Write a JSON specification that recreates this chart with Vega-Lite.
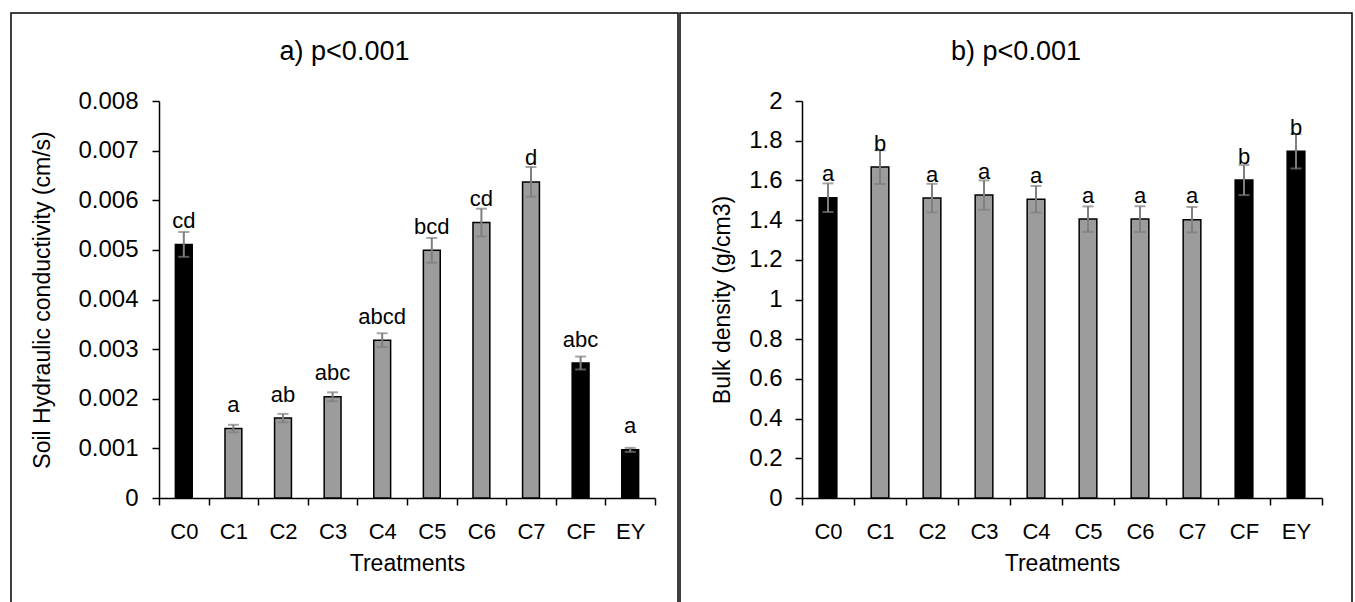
{
  "$schema": "https://vega.github.io/schema/vega-lite/v6.json",
  "padding": {"left": 10, "top": 12, "right": 0, "bottom": 0},
  "spacing": 0,
  "background": "white",
  "config": {
    "font": "Liberation Sans",
    "view": {"stroke": "black", "strokeWidth": 1.5},
    "title": {"fontWeight": "normal", "color": "black", "fontSize": 27, "anchor": "middle", "frame": "group"},
    "axis": {
      "grid": false,
      "domainColor": "black", "domainWidth": 1.5,
      "tickColor": "black", "tickWidth": 1.5, "tickSize": 7,
      "labelColor": "black", "labelFontSize": 22, "labelFont": "Liberation Sans",
      "titleColor": "black", "titleFontSize": 23, "titleFontWeight": "normal", "titleFont": "Liberation Sans"
    }
  },
  "datasets": {
    "hc": [
      {"t": "C0", "mean": 0.00511, "lo": 0.00486, "hi": 0.00536, "lab": "cd"},
      {"t": "C1", "mean": 0.0014, "lo": 0.001325, "hi": 0.001475, "lab": "a"},
      {"t": "C2", "mean": 0.00161, "lo": 0.001525, "hi": 0.001695, "lab": "ab"},
      {"t": "C3", "mean": 0.00204, "lo": 0.00195, "hi": 0.00213, "lab": "abc"},
      {"t": "C4", "mean": 0.00318, "lo": 0.00304, "hi": 0.00332, "lab": "abcd"},
      {"t": "C5", "mean": 0.00499, "lo": 0.00474, "hi": 0.00524, "lab": "bcd"},
      {"t": "C6", "mean": 0.00555, "lo": 0.00527, "hi": 0.00583, "lab": "cd"},
      {"t": "C7", "mean": 0.00637, "lo": 0.00607, "hi": 0.00667, "lab": "d"},
      {"t": "CF", "mean": 0.00272, "lo": 0.00259, "hi": 0.00285, "lab": "abc"},
      {"t": "EY", "mean": 0.00097, "lo": 0.00093, "hi": 0.00101, "lab": "a"}
    ],
    "bd": [
      {"t": "C0", "mean": 1.513, "lo": 1.441, "hi": 1.585, "lab": "a"},
      {"t": "C1", "mean": 1.667, "lo": 1.582, "hi": 1.752, "lab": "b"},
      {"t": "C2", "mean": 1.511, "lo": 1.439, "hi": 1.583, "lab": "a"},
      {"t": "C3", "mean": 1.526, "lo": 1.452, "hi": 1.6, "lab": "a"},
      {"t": "C4", "mean": 1.505, "lo": 1.438, "hi": 1.572, "lab": "a"},
      {"t": "C5", "mean": 1.405, "lo": 1.341, "hi": 1.469, "lab": "a"},
      {"t": "C6", "mean": 1.405, "lo": 1.34, "hi": 1.47, "lab": "a"},
      {"t": "C7", "mean": 1.402, "lo": 1.338, "hi": 1.466, "lab": "a"},
      {"t": "CF", "mean": 1.602, "lo": 1.526, "hi": 1.678, "lab": "b"},
      {"t": "EY", "mean": 1.747, "lo": 1.66, "hi": 1.834, "lab": "b"}
    ]
  },
  "hconcat": [
    {
      "width": 667,
      "height": 592,
      "data": {"name": "hc"},
      "title": {"text": "a) p<0.001", "offset": -53},
      "encoding": {
        "x": {
          "field": "t", "type": "nominal", "sort": null,
          "scale": {"range": [148, 644], "paddingInner": 0, "paddingOuter": 0},
          "axis": {"title": "Treatments", "labelAngle": 0, "offset": -107, "tickBand": "extent", "labelPadding": 16, "titlePadding": 10}
        }
      },
      "layer": [
        {
          "mark": {"type": "bar", "width": {"band": 0.34}, "stroke": "black", "strokeWidth": 1.5},
          "encoding": {
            "y": {
              "field": "mean", "type": "quantitative", "title": "Soil Hydraulic conductivity (cm/s)",
              "scale": {"domain": [0, 0.008], "range": [485, 88], "nice": false, "zero": true},
              "axis": {"title": "Soil Hydraulic conductivity (cm/s)", "offset": -148, "values": [0, 0.001, 0.002, 0.003, 0.004, 0.005, 0.006, 0.007, 0.008], "format": "~g", "labelFontSize": 24, "labelPadding": 14, "titlePadding": 23}
            },
            "fill": {"condition": {"test": "datum.t === 'C0' || datum.t === 'CF' || datum.t === 'EY'", "value": "black"}, "value": "#9c9c9c"}
          }
        },
        {
          "mark": {"type": "errorbar", "ticks": {"size": 11, "color": "#7f7f7f", "thickness": 2}, "rule": {"color": "#7f7f7f", "strokeWidth": 2}},
          "encoding": {
            "y": {"field": "lo", "type": "quantitative", "title": "Soil Hydraulic conductivity (cm/s)"},
            "y2": {"field": "hi"}
          }
        },
        {
          "mark": {"type": "text", "baseline": "alphabetic", "dy": -16.5, "fontSize": 22, "color": "black"},
          "encoding": {
            "y": {"field": "mean", "type": "quantitative", "title": "Soil Hydraulic conductivity (cm/s)"},
            "text": {"field": "lab"}
          }
        }
      ]
    },
    {
      "width": 672,
      "height": 592,
      "data": {"name": "bd"},
      "title": {"text": "b) p<0.001", "offset": -53},
      "encoding": {
        "x": {
          "field": "t", "type": "nominal", "sort": null,
          "scale": {"range": [122, 642], "paddingInner": 0, "paddingOuter": 0},
          "axis": {"title": "Treatments", "labelAngle": 0, "offset": -107, "tickBand": "extent", "labelPadding": 16, "titlePadding": 10}
        }
      },
      "layer": [
        {
          "mark": {"type": "bar", "width": {"band": 0.34}, "stroke": "black", "strokeWidth": 1.5},
          "encoding": {
            "y": {
              "field": "mean", "type": "quantitative", "title": "Bulk density (g/cm3)",
              "scale": {"domain": [0, 2], "range": [485, 88], "nice": false, "zero": true},
              "axis": {"title": "Bulk density (g/cm3)", "offset": -122, "values": [0, 0.2, 0.4, 0.6, 0.8, 1, 1.2, 1.4, 1.6, 1.8, 2], "format": "~g", "labelFontSize": 24, "labelPadding": 13, "titlePadding": 14}
            },
            "fill": {"condition": {"test": "datum.t === 'C0' || datum.t === 'CF' || datum.t === 'EY'", "value": "black"}, "value": "#9c9c9c"}
          }
        },
        {
          "mark": {"type": "errorbar", "ticks": {"size": 11, "color": "#7f7f7f", "thickness": 2}, "rule": {"color": "#7f7f7f", "strokeWidth": 2}},
          "encoding": {
            "y": {"field": "lo", "type": "quantitative", "title": "Bulk density (g/cm3)"},
            "y2": {"field": "hi"}
          }
        },
        {
          "mark": {"type": "text", "baseline": "alphabetic", "dy": -16.5, "fontSize": 22, "color": "black"},
          "encoding": {
            "y": {"field": "mean", "type": "quantitative", "title": "Bulk density (g/cm3)"},
            "text": {"field": "lab"}
          }
        }
      ]
    }
  ]
}
